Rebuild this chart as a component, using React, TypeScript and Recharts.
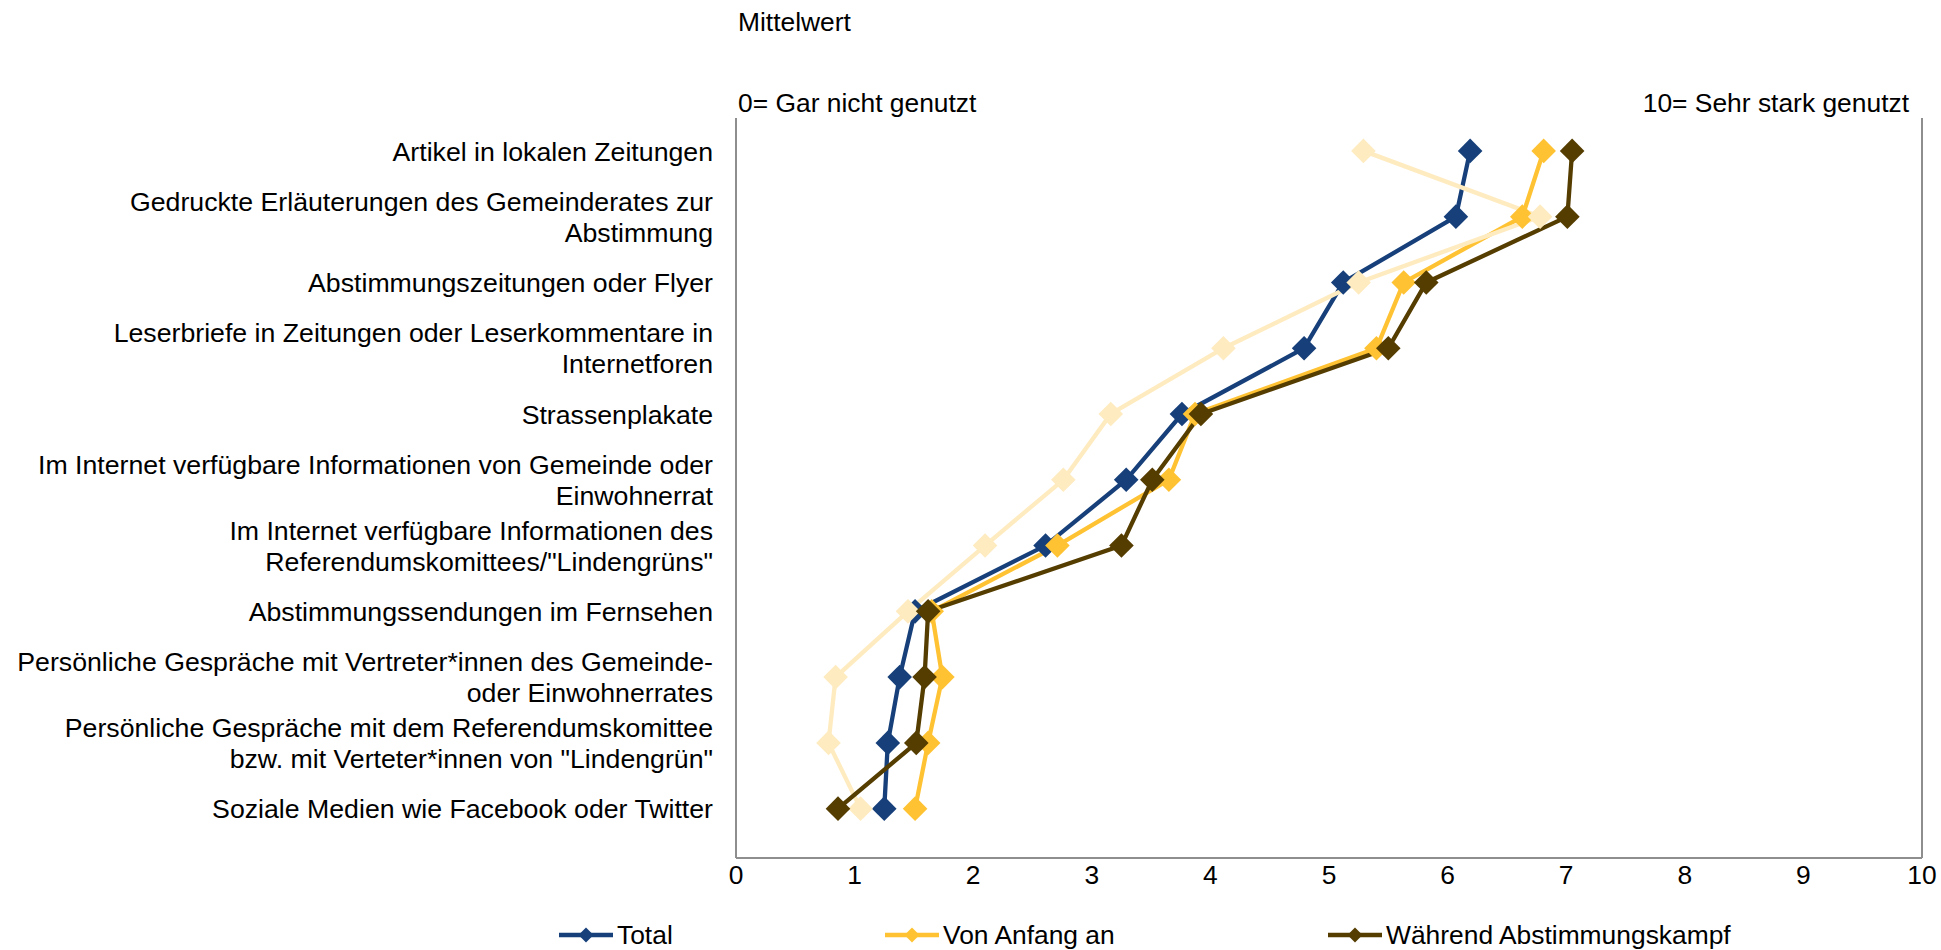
import React from 'react';
import { LineChart, Line, XAxis, YAxis, Legend } from 'recharts';

const categories: string[] = [
  'Artikel in lokalen Zeitungen',
  'Gedruckte Erläuterungen des Gemeinderates zur\nAbstimmung',
  'Abstimmungszeitungen oder Flyer',
  'Leserbriefe in Zeitungen oder Leserkommentare in\nInternetforen',
  'Strassenplakate',
  'Im Internet verfügbare Informationen von Gemeinde oder\nEinwohnerrat',
  'Im Internet verfügbare Informationen des\nReferendumskomittees/"Lindengrüns"',
  'Abstimmungssendungen im Fernsehen',
  'Persönliche Gespräche mit Vertreter*innen des Gemeinde-\noder Einwohnerrates',
  'Persönliche Gespräche mit dem Referendumskomittee\nbzw. mit Verteter*innen von "Lindengrün"',
  'Soziale Medien wie Facebook oder Twitter',
];

const total = [6.19, 6.07, 5.12, 4.79, 3.76, 3.29, 2.61, 1.51, 1.38, 1.28, 1.25];
const vonAnfang = [6.81, 6.63, 5.63, 5.40, 3.87, 3.65, 2.71, 1.65, 1.74, 1.62, 1.51];
const waehrend = [7.05, 7.01, 5.82, 5.50, 3.92, 3.51, 3.25, 1.62, 1.59, 1.52, 0.86];
const vierte = [5.29, 6.78, 5.25, 4.11, 3.16, 2.76, 2.10, 1.45, 0.84, 0.78, 1.05];

const xTicks = [0, 1, 2, 3, 4, 5, 6, 7, 8, 9, 10];

const seriesNames = ['Total', 'Von Anfang an', 'Während Abstimmungskampf', 'Serie 4'];
const colors = ['#17407A', '#FFC233', '#553D00', '#FFEBC0'];

const titleText = 'Mittelwert';
const lowLabel = '0= Gar nicht genutzt';
const highLabel = '10= Sehr stark genutzt';

const data = categories.map((c, i) => ({
  idx: i,
  name: c,
  total: total[i],
  vonAnfang: vonAnfang[i],
  waehrend: waehrend[i],
  vierte: vierte[i],
}));

const FONT = '"Liberation Sans", Arial, sans-serif';
const FS = 26.4;
const FS_CAT = 26.7;

const makeDiamond = (color: string, r: number) => (p: any) => {
  const { cx, cy, index } = p;
  if (cx == null || cy == null) return <g key={`d-${index}`} />;
  return (
    <polygon
      key={`d-${index}`}
      points={`${cx},${cy - r} ${cx + r},${cy} ${cx},${cy + r} ${cx - r},${cy}`}
      fill={color}
      stroke="none"
    />
  );
};

const CategoryTick = (props: any) => {
  const { x, y, payload } = props;
  const label = categories[payload.value] ?? '';
  const lines = label.split('\n');
  const lh = 31;
  const start = -((lines.length - 1) * lh) / 2;
  return (
    <g>
      <text x={x} y={y} textAnchor="end" fontSize={FS_CAT} fontFamily={FONT} fill="#000">
        {lines.map((l, i) => (
          <tspan key={i} x={x} y={y + start + i * lh} dy="0.36em">
            {l}
          </tspan>
        ))}
      </text>
    </g>
  );
};

const legendItemWidths = [326, 443, 500];

const renderLegend = (props: any) => {
  const items = (props.payload || []).filter((it: any) => it.type !== 'none');
  return (
    <div
      style={{
        display: 'flex',
        alignItems: 'center',
        paddingLeft: 559,
        fontFamily: FONT,
        fontSize: FS,
        color: '#000',
        height: 36,
      }}
    >
      {items.map((it: any, i: number) => (
        <div key={i} style={{ display: 'flex', alignItems: 'center', width: legendItemWidths[i] }}>
          <svg width={54} height={24} style={{ flex: 'none' }}>
            <line x1={0} y1={12} x2={54} y2={12} stroke={it.color} strokeWidth={4.5} />
            <polygon points="27,4.5 34.5,12 27,19.5 19.5,12" fill={it.color} />
          </svg>
          <span style={{ marginLeft: 4, lineHeight: '36px', whiteSpace: 'nowrap' }}>{it.value}</span>
        </div>
      ))}
    </div>
  );
};

export default function App() {
  const axisColor = '#8E8E8E';
  return (
    <div style={{ position: 'absolute', left: 0, top: 0, width: 1941, height: 950, background: '#fff' }}>
      <div style={{ position: 'absolute', left: 738, top: 7, fontFamily: FONT, fontSize: FS, lineHeight: '30px', color: '#000' }}>
        {titleText}
      </div>
      <div style={{ position: 'absolute', left: 738, top: 88, fontFamily: FONT, fontSize: FS, lineHeight: '30px', color: '#000' }}>
        {lowLabel}
      </div>
      <div style={{ position: 'absolute', right: 32, top: 88, fontFamily: FONT, fontSize: FS, lineHeight: '30px', color: '#000', textAlign: 'right' }}>
        {highLabel}
      </div>
      <div style={{ position: 'absolute', left: 0, top: 0 }}>
        <LineChart
          width={1941}
          height={950}
          data={data}
          layout="vertical"
          margin={{ top: 118, right: 18, bottom: 91, left: 735 }}
        >
          <XAxis
            type="number"
            domain={[0, 10]}
            ticks={xTicks}
            interval={0}
            height={1}
            tickSize={0}
            tickMargin={7}
            tickLine={false}
            axisLine={{ stroke: axisColor, strokeWidth: 2 }}
            tick={{ fontSize: FS, fontFamily: FONT, fill: '#000' }}
          />
          <YAxis
            type="number"
            dataKey="idx"
            domain={[-0.5, 10.75]}
            ticks={categories.map((_, i) => i)}
            interval={0}
            width={1}
            tickSize={0}
            tickMargin={23}
            tickLine={false}
            axisLine={{ stroke: axisColor, strokeWidth: 2 }}
            tick={<CategoryTick />}
          />
          <YAxis
            yAxisId="right"
            orientation="right"
            type="number"
            dataKey="idx"
            domain={[-0.5, 10.75]}
            width={1}
            tick={false}
            tickLine={false}
            axisLine={{ stroke: axisColor, strokeWidth: 2 }}
          />
          <Legend
            layout="horizontal"
            verticalAlign="middle"
            align="center"
            wrapperStyle={{ top: 917, left: 0, width: 1941 }}
            content={renderLegend}
          />
          <Line
            dataKey="total"
            name={seriesNames[0]}
            stroke={colors[0]}
            strokeWidth={4.3}
            dot={makeDiamond(colors[0], 12.3)}
            activeDot={false}
            isAnimationActive={false}
          />
          <Line
            dataKey="vonAnfang"
            name={seriesNames[1]}
            stroke={colors[1]}
            strokeWidth={4.3}
            dot={makeDiamond(colors[1], 12.3)}
            activeDot={false}
            isAnimationActive={false}
          />
          <Line
            dataKey="vierte"
            name={seriesNames[3]}
            stroke={colors[3]}
            strokeWidth={4.3}
            legendType="none"
            dot={makeDiamond(colors[3], 12.3)}
            activeDot={false}
            isAnimationActive={false}
          />
          <Line
            dataKey="waehrend"
            name={seriesNames[2]}
            stroke={colors[2]}
            strokeWidth={4.3}
            dot={makeDiamond(colors[2], 12.3)}
            activeDot={false}
            isAnimationActive={false}
          />
        </LineChart>
      </div>
    </div>
  );
}
